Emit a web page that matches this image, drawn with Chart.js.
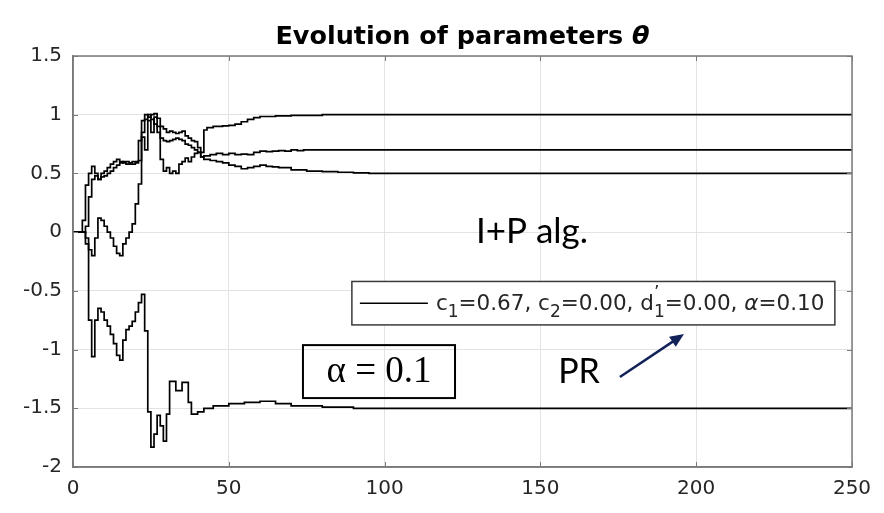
<!DOCTYPE html>
<html>
<head>
<meta charset="utf-8">
<title>Evolution of parameters</title>
<script src="https://cdn.jsdelivr.net/npm/chart.js@4.4.1/dist/chart.umd.min.js"></script>
<style>
    html, body { margin: 0; padding: 0; background: #fff; }
    #wrap { width: 884px; height: 513px; }
</style>
</head>
<body>
<div id="wrap"><canvas id="thetaChart" width="884" height="513"></canvas></div>
<script>
// parameter estimates per iteration, stored as step change points (iteration, value)

const xTickLabels = ['0', '50', '100', '150', '200', '250'];
const yTickLabels = ['-2', '-1.5', '-1', '-0.5', '0', '0.5', '1', '1.5'];

// theta 1 -> settles at 1
const iterA = [0, 3, 4, 5, 6, 7, 8, 9, 10, 11, 12, 13, 14, 15, 16, 17, 18, 19, 20, 21, 22, 23, 24, 25, 26, 27, 28, 29, 30, 31,
    32, 33, 34, 35, 36, 37, 38, 39, 40, 41, 42, 43, 45, 48, 50, 52, 54, 56, 58, 60, 65, 70, 80, 250];
const thetaA = [0, 0.1, 0.4, 0.5, 0.56, 0.5, 0.45, 0.5, 0.52, 0.55, 0.58, 0.6, 0.62, 0.6, 0.59, 0.58, 0.58, 0.58, 0.59, 0.78,
    0.95, 1.0, 0.98, 1.0, 1.01, 0.97, 0.9, 0.88, 0.85, 0.86, 0.85, 0.84, 0.85, 0.86, 0.82, 0.8, 0.78, 0.77, 0.72, 0.68,
    0.87, 0.89, 0.9, 0.905, 0.91, 0.92, 0.94, 0.96, 0.975, 0.985, 0.99, 0.995, 1.0, 1.0];

// theta 2 -> settles at 0.7
const iterB = [0, 4, 5, 6, 7, 8, 9, 10, 11, 12, 13, 14, 15, 16, 17, 18, 19, 20, 21, 22, 23, 24, 25, 26, 27, 28, 29, 30, 31, 32,
    33, 34, 35, 36, 37, 38, 39, 40, 41, 42, 44, 46, 48, 50, 52, 54, 56, 58, 60, 62, 64, 66, 68, 70, 72, 74, 250];
const thetaB = [0, 0.05, 0.3, 0.45, 0.48, 0.45, 0.47, 0.48, 0.5, 0.52, 0.55, 0.57, 0.59, 0.6, 0.6, 0.59, 0.6, 0.6, 0.61, 0.85,
    0.96, 1.0, 0.96, 0.92, 0.9, 0.8, 0.78, 0.77, 0.78, 0.79, 0.8, 0.79, 0.78, 0.75, 0.74, 0.72, 0.7, 0.68, 0.64, 0.65,
    0.66, 0.67, 0.66, 0.67, 0.66, 0.665, 0.66, 0.68, 0.69, 0.685, 0.69, 0.695, 0.69, 0.7, 0.695, 0.7, 0.7];

// theta 3 -> settles at 0.5
const iterC = [0, 4, 5, 6, 7, 8, 9, 10, 11, 12, 13, 14, 15, 16, 17, 18, 19, 20, 21, 22, 23, 24, 25, 26, 27, 28, 29, 30, 31, 32,
    33, 34, 35, 36, 37, 38, 39, 40, 41, 42, 44, 46, 48, 50, 52, 54, 56, 58, 60, 62, 64, 66, 70, 75, 80, 85, 90, 95, 250];
const thetaC = [0, -0.05, -0.15, -0.2, -0.05, 0.12, 0.1, 0.05, 0.0, -0.05, -0.12, -0.18, -0.2, -0.1, -0.05, 0.0, 0.07, 0.24, 0.41, 0.81,
    0.7, 0.95, 0.85, 0.98, 0.85, 0.62, 0.52, 0.55, 0.5, 0.52, 0.5, 0.58, 0.6, 0.63, 0.6, 0.64, 0.67, 0.68, 0.64, 0.62,
    0.61, 0.6, 0.59, 0.57, 0.56, 0.54, 0.55, 0.56, 0.57, 0.56, 0.555, 0.55, 0.53, 0.52, 0.515, 0.51, 0.505, 0.5, 0.5];

// theta 4 -> settles at -1.5
const iterD = [0, 4, 5, 6, 7, 8, 9, 10, 11, 12, 13, 14, 15, 16, 17, 18, 19, 20, 21, 22, 23, 24, 25, 26, 27, 28, 29, 30, 31,
    33, 35, 37, 38, 40, 42, 45, 50, 55, 60, 65, 70, 80, 90, 250];
const thetaD = [0, -0.1, -0.75, -1.06, -0.75, -0.65, -0.68, -0.75, -0.8, -0.87, -0.95, -1.05, -1.09, -0.92, -0.83, -0.8, -0.76,
    -0.68, -0.6, -0.53, -0.84, -1.53, -1.83, -1.72, -1.56, -1.65, -1.78, -1.55, -1.27,
    -1.35, -1.28, -1.45, -1.55, -1.53, -1.5, -1.48, -1.46, -1.45, -1.44, -1.46, -1.48, -1.49, -1.5, -1.5];

// legend label pieces (c_1, c_2, d'_1, alpha)
const legendPieces = [
    { t: 'c' }, { t: '1', sub: true }, { t: '=0.67, c' }, { t: '2', sub: true },
    { t: '=0.00, d' }, { t: '\u02bc', sup: true, keep: true }, { t: '1', sub: true },
    { t: '=0.00, ' }, { t: '\u03b1', it: true }, { t: '=0.10' }
];


const tickFont = '"DejaVu Sans", sans-serif';
const axisGrey = '#7a7a7a';

function toPoints(iters, vals) {
    return iters.map((k, i) => ({ x: k, y: vals[i] }));
}

function stepLine(iters, vals) {
    return {
        data: toPoints(iters, vals),
        borderColor: '#000',
        borderWidth: 1.7,
        stepped: true,
        pointRadius: 0,
        fill: false,
        tension: 0
    };
}


// frame, inward ticks, title, legend and the slide notes
const decorPlugin = {
    id: 'decor',
    afterDraw(chart) {
        const { ctx, chartArea: a } = chart;
        const xs = chart.scales.x, ys = chart.scales.y;
        ctx.save();

        // box + inward ticks on all sides
        ctx.strokeStyle = axisGrey;
        ctx.lineWidth = 1.5;
        ctx.strokeRect(a.left, a.top, a.right - a.left, a.bottom - a.top);
        ctx.lineWidth = 1;
        ctx.beginPath();
        xs.ticks.forEach(t => {
            const px = Math.round(xs.getPixelForValue(t.value)) + 0.5;
            ctx.moveTo(px, a.bottom); ctx.lineTo(px, a.bottom - 5);
            ctx.moveTo(px, a.top); ctx.lineTo(px, a.top + 5);
        });
        ys.ticks.forEach(t => {
            const py = Math.round(ys.getPixelForValue(t.value)) + 0.5;
            ctx.moveTo(a.left, py); ctx.lineTo(a.left + 5, py);
            ctx.moveTo(a.right, py); ctx.lineTo(a.right - 5, py);
        });
        ctx.stroke();

        // title
        const t1 = 'Evolution of parameters ';
        const f1 = 'bold 25.5px ' + tickFont;
        const f2 = 'italic bold 25.5px ' + tickFont;
        ctx.font = f1;
        const w1 = ctx.measureText(t1).width;
        ctx.font = f2;
        const w2 = ctx.measureText('\u03b8').width;
        let tx = (a.left + a.right) / 2 - (w1 + w2) / 2;
        ctx.fillStyle = '#000';
        ctx.textBaseline = 'alphabetic';
        ctx.textAlign = 'left';
        ctx.font = f1;
        ctx.fillText(t1, tx, 44);
        ctx.font = f2;
        ctx.fillText('\u03b8', tx + w1, 44);

        // legend box
        const lx0 = xs.getPixelForValue(89.5), lx1 = xs.getPixelForValue(244.5);
        const ly0 = ys.getPixelForValue(-0.42), ly1 = ys.getPixelForValue(-0.79);
        ctx.fillStyle = '#fff';
        ctx.fillRect(lx0, ly0, lx1 - lx0, ly1 - ly0);
        ctx.strokeStyle = '#3a3a3a';
        ctx.lineWidth = 1.5;
        ctx.strokeRect(lx0, ly0, lx1 - lx0, ly1 - ly0);
        const lmid = (ly0 + ly1) / 2;
        ctx.strokeStyle = '#000';
        ctx.lineWidth = 1.5;
        ctx.beginPath();
        ctx.moveTo(lx0 + 8, lmid); ctx.lineTo(lx0 + 76, lmid);
        ctx.stroke();

        let cx = lx0 + 84;
        ctx.fillStyle = '#262626';
        legendPieces.forEach(p => {
            let size = 21.5, dy = 0, style = '';
            if (p.sub) { size = 17; dy = 7; }
            if (p.sup) { size = 17; dy = -12; }
            if (p.it) style = 'italic ';
            ctx.font = style + size + 'px ' + tickFont;
            ctx.fillText(p.t, cx, lmid + 7 + dy);
            if (!p.keep) cx += ctx.measureText(p.t).width;
        });

        // slide notes
        ctx.fillStyle = '#000';
        ctx.textAlign = 'center';
        ctx.textBaseline = 'middle';
        ctx.font = '35px Lato, "Open Sans", sans-serif';
        ctx.fillText('I+P alg.', xs.getPixelForValue(147.3), ys.getPixelForValue(0.0));
        ctx.font = '34px Lato, "Open Sans", sans-serif';
        ctx.fillText('PR', xs.getPixelForValue(162.4), ys.getPixelForValue(-1.19));

        const bx0 = xs.getPixelForValue(73.8), bx1 = xs.getPixelForValue(122.6);
        const by0 = ys.getPixelForValue(-0.962), by1 = ys.getPixelForValue(-1.413);
        ctx.strokeStyle = '#000';
        ctx.lineWidth = 2;
        ctx.strokeRect(bx0, by0, bx1 - bx0, by1 - by0);
        ctx.font = '37px "Liberation Serif", serif';
        ctx.fillText('\u03b1 = 0.1', (bx0 + bx1) / 2, (by0 + by1) / 2 + 1);

        // arrow to the legend
        const ax0 = xs.getPixelForValue(175.5), ay0 = ys.getPixelForValue(-1.234);
        const ax1 = xs.getPixelForValue(196.1), ay1 = ys.getPixelForValue(-0.868);
        const ang = Math.atan2(ay1 - ay0, ax1 - ax0);
        ctx.strokeStyle = '#13235a';
        ctx.fillStyle = '#13235a';
        ctx.lineWidth = 2.5;
        ctx.beginPath();
        ctx.moveTo(ax0, ay0);
        ctx.lineTo(ax1 - 10 * Math.cos(ang), ay1 - 10 * Math.sin(ang));
        ctx.stroke();
        ctx.beginPath();
        ctx.moveTo(ax1, ay1);
        ctx.lineTo(ax1 - 14 * Math.cos(ang) + 6 * Math.sin(ang), ay1 - 14 * Math.sin(ang) - 6 * Math.cos(ang));
        ctx.lineTo(ax1 - 14 * Math.cos(ang) - 6 * Math.sin(ang), ay1 - 14 * Math.sin(ang) + 6 * Math.cos(ang));
        ctx.closePath();
        ctx.fill();

        ctx.restore();
    }
};


const ctx = document.getElementById('thetaChart').getContext('2d');

new Chart(ctx, {
    type: 'line',
    data: {
        datasets: [
            stepLine(iterA, thetaA),
            stepLine(iterB, thetaB),
            stepLine(iterC, thetaC),
            stepLine(iterD, thetaD)
        ]
    },
    options: {
        responsive: false,
        animation: false,
        devicePixelRatio: 1,
        layout: { padding: { top: 56, right: 32, left: 0, bottom: 0 } },
        scales: {
            x: {
                type: 'linear',
                min: 0, max: 250,
                afterFit: s => { s.height = 46; },
                ticks: {
                    stepSize: 50, padding: 10, color: '#262626', maxRotation: 0,
                    font: { family: tickFont, size: 20 },
                    callback: (v, i) => xTickLabels[i]
                },
                grid: { color: '#e3e3e3', drawTicks: false },
                border: { color: axisGrey, width: 1.5 }
            },
            y: {
                min: -2, max: 1.5,
                afterFit: s => { s.width = 73; },
                ticks: {
                    stepSize: 0.5, padding: 11, color: '#262626',
                    font: { family: tickFont, size: 20 },
                    callback: (v, i) => yTickLabels[i]
                },
                grid: { color: '#e3e3e3', drawTicks: false },
                border: { color: axisGrey, width: 1.5 }
            }
        },
        plugins: {
            legend: { display: false },
            tooltip: { enabled: false },
            title: { display: false }
        }
    },
    plugins: [decorPlugin]
});
</script>
</body>
</html>
